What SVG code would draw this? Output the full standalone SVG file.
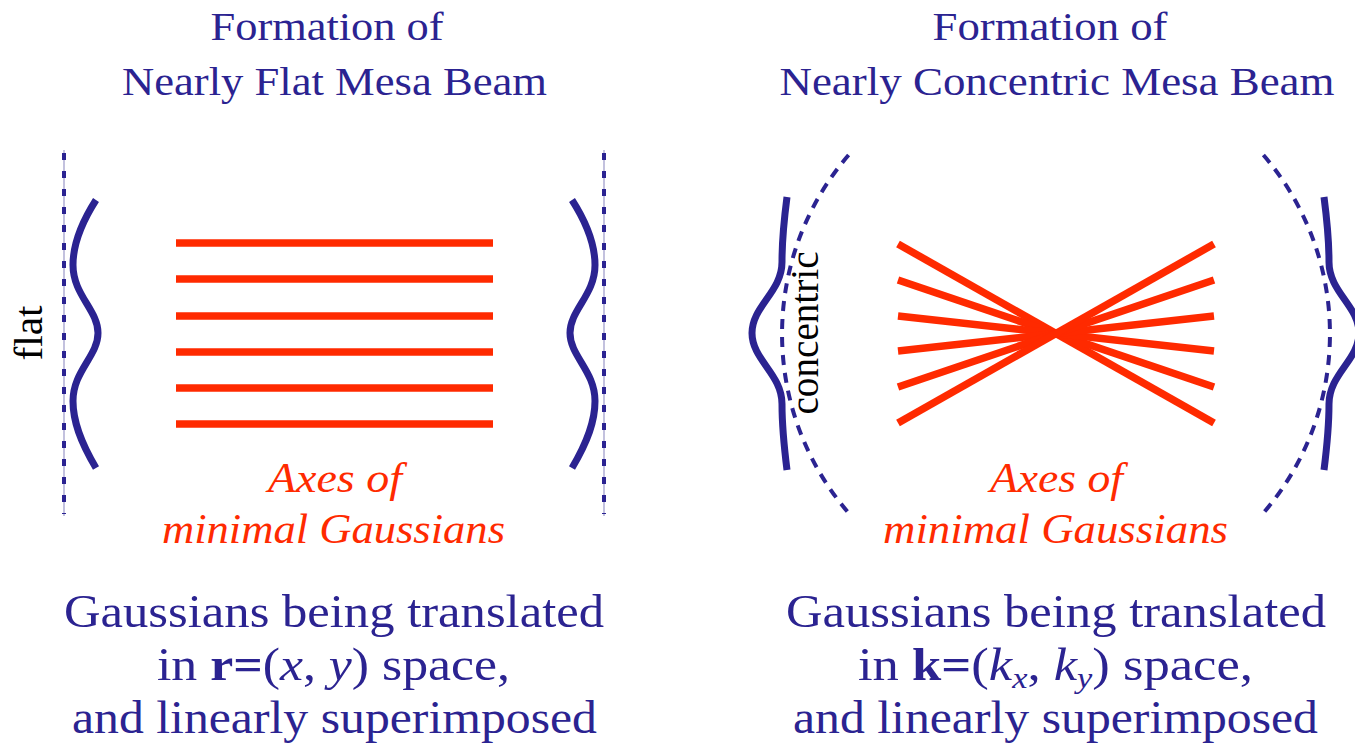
<svg xmlns="http://www.w3.org/2000/svg" width="1355" height="746" viewBox="0 0 1355 746">
<style>
.axis{stroke:#ff2a00;stroke-width:7.5;fill:none}
.wave{stroke:#2b2391;stroke-width:7;fill:none}
.guide{stroke:#9a98c8;stroke-width:1.2;fill:none}
.dashv{stroke:#2b2391;stroke-width:4;stroke-dasharray:7 11;fill:none}
.arc{stroke:#2b2391;stroke-width:4;stroke-dasharray:10 8;fill:none}
</style>
<rect width="1355" height="746" fill="#fff"/>

<g id="left-title" fill="#2b2391" font-size="41" text-anchor="middle" font-family="'Liberation Serif', serif">
<text x="327" y="40" textLength="233" lengthAdjust="spacingAndGlyphs">Formation of</text>
<text x="334.5" y="95" textLength="425" lengthAdjust="spacingAndGlyphs">Nearly Flat Mesa Beam</text>
</g>

<g id="right-title" fill="#2b2391" font-size="41" text-anchor="middle" font-family="'Liberation Serif', serif">
<text x="1050" y="40" textLength="235" lengthAdjust="spacingAndGlyphs">Formation of</text>
<text x="1057" y="95" textLength="555" lengthAdjust="spacingAndGlyphs">Nearly Concentric Mesa Beam</text>
</g>

<g id="flat-mirror-left">
<line class="guide" x1="64" y1="150" x2="64" y2="516"/>
<line class="dashv" x1="64" y1="153" x2="64" y2="514"/>
<path class="wave" d="M96,200 C80,225 73,245 73,265 C73,295 98,310 98,333 C98,356 73,371 73,401 C73,421 80,441 96,468"/>
<text fill="#000" font-size="40" font-family="'Liberation Serif', serif" transform="translate(42,333) rotate(-90)" text-anchor="middle" textLength="55" lengthAdjust="spacingAndGlyphs">flat</text>
</g>

<g id="flat-mirror-right">
<line class="guide" x1="604" y1="150" x2="604" y2="516"/>
<line class="dashv" x1="604" y1="153" x2="604" y2="514"/>
<path class="wave" d="M572,200 C588,225 595,245 595,265 C595,295 570,310 570,333 C570,356 595,371 595,401 C595,421 588,441 572,468"/>
</g>

<g id="flat-axes">
<line class="axis" x1="176" y1="243" x2="493" y2="243"/>
<line class="axis" x1="176" y1="279" x2="493" y2="279"/>
<line class="axis" x1="176" y1="316" x2="493" y2="316"/>
<line class="axis" x1="176" y1="352" x2="493" y2="352"/>
<line class="axis" x1="176" y1="388" x2="493" y2="388"/>
<line class="axis" x1="176" y1="424" x2="493" y2="424"/>
</g>

<g id="left-axes-label" fill="#ff2a00" font-size="42" font-style="italic" text-anchor="middle" font-family="'Liberation Serif', serif">
<text x="335" y="492" textLength="134" lengthAdjust="spacingAndGlyphs">Axes of</text>
<text x="333.5" y="543" textLength="343" lengthAdjust="spacingAndGlyphs">minimal Gaussians</text>
</g>

<g id="left-caption" fill="#2b2391" font-size="46" text-anchor="middle" font-family="'Liberation Serif', serif">
<text x="334" y="627" textLength="540" lengthAdjust="spacingAndGlyphs">Gaussians being translated</text>
<text x="333.5" y="680" textLength="353" lengthAdjust="spacingAndGlyphs">in <tspan font-weight="bold">r=</tspan>(<tspan font-style="italic">x</tspan>, <tspan font-style="italic">y</tspan>) space,</text>
<text x="334.5" y="733" textLength="525" lengthAdjust="spacingAndGlyphs">and linearly superimposed</text>
</g>

<g id="concentric-mirror-left">
<path class="arc" d="M848.6,155 A274,274 0 0 0 848.6,513"/>
<path class="wave" d="M787,197 C784,220 782,240 782,262 C782,292 752,306 752,333 C752,360 782,374 782,404 C782,426 784,446 787,470"/>
<text fill="#000" font-size="40" font-family="'Liberation Serif', serif" transform="translate(818,333) rotate(-90)" text-anchor="middle" textLength="163" lengthAdjust="spacingAndGlyphs">concentric</text>
</g>

<g id="concentric-mirror-right">
<path class="arc" d="M1263.4,155 A274,274 0 0 1 1263.4,513"/>
<path class="wave" d="M1324,197 C1327,220 1329,240 1329,262 C1329,292 1359,306 1359,333 C1359,360 1329,374 1329,404 C1329,426 1327,446 1324,470"/>
</g>

<g id="concentric-axes">
<line class="axis" x1="898" y1="244" x2="1214" y2="423"/>
<line class="axis" x1="898" y1="280" x2="1214" y2="387"/>
<line class="axis" x1="898" y1="316" x2="1214" y2="351"/>
<line class="axis" x1="898" y1="351" x2="1214" y2="316"/>
<line class="axis" x1="898" y1="387" x2="1214" y2="280"/>
<line class="axis" x1="898" y1="423" x2="1214" y2="244"/>
</g>

<g id="right-axes-label" fill="#ff2a00" font-size="42" font-style="italic" text-anchor="middle" font-family="'Liberation Serif', serif">
<text x="1056.5" y="492" textLength="133" lengthAdjust="spacingAndGlyphs">Axes of</text>
<text x="1055.5" y="543" textLength="345" lengthAdjust="spacingAndGlyphs">minimal Gaussians</text>
</g>

<g id="right-caption" fill="#2b2391" font-size="46" text-anchor="middle" font-family="'Liberation Serif', serif">
<text x="1056" y="627" textLength="540" lengthAdjust="spacingAndGlyphs">Gaussians being translated</text>
<text x="1055.5" y="680" textLength="395" lengthAdjust="spacingAndGlyphs">in <tspan font-weight="bold">k=</tspan>(<tspan font-style="italic">k</tspan><tspan font-style="italic" font-size="30" dy="8">x</tspan><tspan dy="-8">, </tspan><tspan font-style="italic">k</tspan><tspan font-style="italic" font-size="30" dy="8">y</tspan><tspan dy="-8">) space,</tspan></text>
<text x="1055.5" y="733" textLength="525" lengthAdjust="spacingAndGlyphs">and linearly superimposed</text>
</g>
</svg>
